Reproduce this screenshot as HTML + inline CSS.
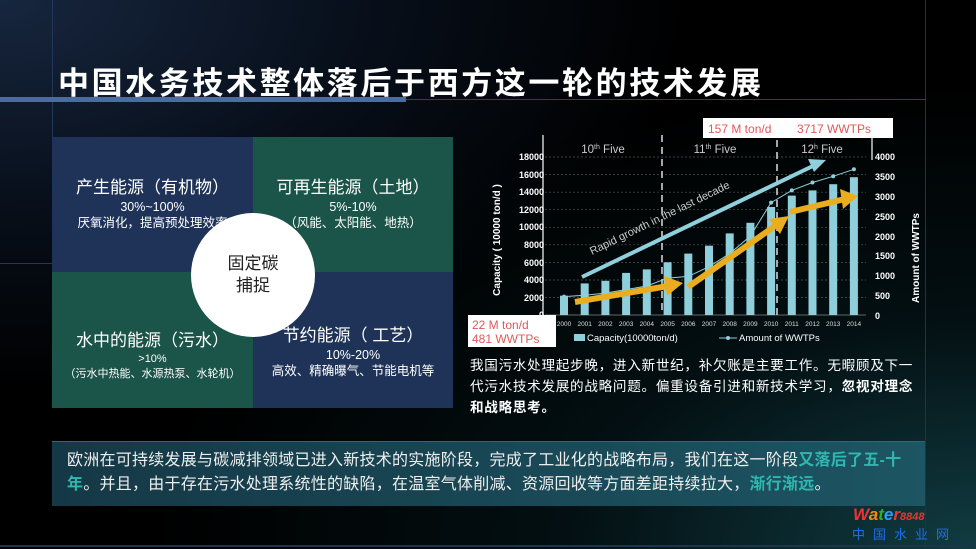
<!DOCTYPE html>
<html><head><meta charset="utf-8"><style>
*{margin:0;padding:0;box-sizing:border-box}
body{width:976px;height:549px;overflow:hidden;background:#000;font-family:"Liberation Sans","Noto Sans CJK SC",sans-serif;position:relative;color:#fff}
.bg{position:absolute;inset:0;background:radial-gradient(ellipse at 0% 0%,#17263f 0%,#08101c 25%,#000 50%),#000}
.bg2{position:absolute;inset:0;background:radial-gradient(ellipse at 100% 100%,rgba(30,110,120,.55) 0%,rgba(10,50,60,.3) 30%,rgba(0,0,0,0) 60%)}
.abs{position:absolute}
.q{position:absolute;text-align:center;color:#fff}
</style></head><body>
<div class="bg"></div><div class="bg2"></div>
<div class="abs" style="left:52px;top:0;width:1px;height:175px;background:#22385a"></div>
<div class="abs" style="left:925px;top:0;width:1px;height:549px;background:#1d3350"></div>
<div class="abs" style="left:0;top:545px;width:976px;height:2px;background:#1d3350"></div>
<div class="abs" style="left:0;top:263px;width:52px;height:1px;background:#22385a"></div>
<div class="abs" style="left:58px;top:58px;font-size:31px;font-weight:bold;letter-spacing:2.6px;color:#fff;white-space:nowrap">中国水务技术整体落后于西方这一轮的技术发展</div>
<div class="abs" style="left:0;top:97px;width:406px;height:5px;background:#4a6aa8"></div>
<div class="abs" style="left:406px;top:99px;width:520px;height:1px;background:#2a3f66"></div>

<div class="abs" style="left:52px;top:137px;width:201px;height:135px;background:#1e3357"></div>
<div class="abs" style="left:253px;top:137px;width:200px;height:135px;background:#1b5448"></div>
<div class="abs" style="left:52px;top:272px;width:201px;height:136px;background:#1b5448"></div>
<div class="abs" style="left:253px;top:272px;width:200px;height:136px;background:#1e3357"></div>
<div class="q" style="left:52px;top:177px;width:201px;font-size:17px;line-height:22px">产生能源（有机物）</div>
<div class="q" style="left:52px;top:199px;width:201px;font-size:12.5px;line-height:16px">30%~100%</div>
<div class="q" style="left:52px;top:215px;width:201px;font-size:12.5px;line-height:16px;white-space:nowrap">厌氧消化，提高预处理效率</div>
<div class="q" style="left:253px;top:177px;width:200px;font-size:17px;line-height:22px">可再生能源（土地）</div>
<div class="q" style="left:253px;top:199px;width:200px;font-size:12.5px;line-height:16px">5%-10%</div>
<div class="q" style="left:253px;top:215px;width:200px;font-size:12.5px;line-height:16px">（风能、太阳能、地热）</div>
<div class="q" style="left:52px;top:330px;width:201px;font-size:17px;line-height:22px">水中的能源（污水）</div>
<div class="q" style="left:52px;top:352px;width:201px;font-size:11px;line-height:14px">&gt;10%</div>
<div class="q" style="left:52px;top:366px;width:201px;font-size:11px;line-height:16px">（污水中热能、水源热泵、水轮机）</div>
<div class="q" style="left:253px;top:325px;width:200px;font-size:17px;line-height:22px">节约能源（ 工艺）</div>
<div class="q" style="left:253px;top:347px;width:200px;font-size:12.5px;line-height:16px">10%-20%</div>
<div class="q" style="left:253px;top:363px;width:200px;font-size:12.5px;line-height:16px">高效、精确曝气、节能电机等</div>
<div class="abs" style="left:191px;top:213px;width:124px;height:124px;border-radius:50%;background:#fff"></div>
<div class="q" style="left:191px;top:253px;width:124px;font-size:17px;line-height:22px;color:#222">固定碳<br>捕捉</div>

<svg class="abs" style="left:0;top:0" width="976" height="549" font-family="Liberation Sans,sans-serif">
<g stroke="#555" stroke-dasharray="2,2" stroke-width="0.7">
<line x1="545" x2="866" y1="157" y2="157"/><line x1="545" x2="866" y1="174.6" y2="174.6"/><line x1="545" x2="866" y1="192.2" y2="192.2"/><line x1="545" x2="866" y1="209.7" y2="209.7"/><line x1="545" x2="866" y1="227.3" y2="227.3"/><line x1="545" x2="866" y1="244.8" y2="244.8"/><line x1="545" x2="866" y1="262.4" y2="262.4"/><line x1="545" x2="866" y1="280" y2="280"/><line x1="545" x2="866" y1="297.5" y2="297.5"/>
</g>
<line x1="545" y1="315" x2="866" y2="315" stroke="#666"/>
<line x1="543" y1="135" x2="543" y2="315" stroke="#ccc" stroke-width="1.5"/>
<line x1="872" y1="135" x2="872" y2="160" stroke="#ccc" stroke-width="1.5"/>
<line x1="662" y1="135" x2="662" y2="315" stroke="#ddd" stroke-width="1.5" stroke-dasharray="7,5"/>
<line x1="777" y1="128" x2="777" y2="315" stroke="#ddd" stroke-width="1.5" stroke-dasharray="7,5"/>
<g font-size="11.5" fill="#ccc" text-anchor="middle">
<text x="603" y="153">10<tspan font-size="7" dy="-4">th</tspan><tspan dy="4"> Five</tspan></text>
<text x="715" y="153">11<tspan font-size="7" dy="-4">th</tspan><tspan dy="4"> Five</tspan></text>
<text x="822" y="153">12<tspan font-size="7" dy="-4">h</tspan><tspan dy="4"> Five</tspan></text>
</g>
<g font-size="9" font-weight="bold" fill="#fff" text-anchor="end">
<text x="544" y="160">18000</text><text x="544" y="178">16000</text><text x="544" y="195">14000</text><text x="544" y="213">12000</text><text x="544" y="230">10000</text><text x="544" y="248">8000</text><text x="544" y="266">6000</text><text x="544" y="283">4000</text><text x="544" y="301">2000</text><text x="544" y="318">0</text>
</g>
<g font-size="9" font-weight="bold" fill="#fff">
<text x="875" y="160">4000</text><text x="875" y="180">3500</text><text x="875" y="200">3000</text><text x="875" y="220">2500</text><text x="875" y="240">2000</text><text x="875" y="259">1500</text><text x="875" y="279">1000</text><text x="875" y="299">500</text><text x="875" y="319">0</text>
</g>
<text transform="translate(500,240) rotate(-90)" font-size="10" font-weight="bold" fill="#fff" text-anchor="middle">Capacity ( 10000 ton/d )</text>
<text transform="translate(919,258) rotate(-90)" font-size="10" font-weight="bold" fill="#fff" text-anchor="middle">Amount of WWTPs</text>
<g fill="#8fcfdc">
<rect x="560" y="295.7" width="8" height="19.3"/><rect x="580.7" y="283.4" width="8" height="31.6"/><rect x="601.4" y="280.8" width="8" height="34.2"/><rect x="622.1" y="272.9" width="8" height="42.1"/><rect x="642.8" y="269.4" width="8" height="45.6"/><rect x="663.6" y="262.3" width="8" height="52.7"/><rect x="684.3" y="253.6" width="8" height="61.4"/><rect x="705" y="245.7" width="8" height="69.3"/><rect x="725.7" y="233.4" width="8" height="81.6"/><rect x="746.4" y="222.8" width="8" height="92.2"/><rect x="767.1" y="207" width="8" height="108"/><rect x="787.8" y="195.6" width="8" height="119.4"/><rect x="808.5" y="190.4" width="8" height="124.6"/><rect x="829.2" y="184.2" width="8" height="130.8"/><rect x="849.9" y="177.2" width="8" height="137.8"/>
</g>
<polyline fill="none" stroke="#8fcfdc" stroke-width="1" points="564,296.6 584.7,295.3 605.4,293.1 626.1,289.5 646.8,286 667.6,278.1 688.3,276.4 709,266.7 729.7,253.6 750.4,236 771.1,202.6 791.8,190.4 812.5,182.5 833.2,176.3 853.9,169.3"/>
<g fill="#8fcfdc"><circle cx="564" cy="296.6" r="2"/><circle cx="771.1" cy="202.6" r="2"/><circle cx="791.8" cy="190.4" r="2"/><circle cx="812.5" cy="182.5" r="2"/><circle cx="833.2" cy="176.3" r="2"/><circle cx="853.9" cy="169.3" r="2"/></g>
<g font-size="6.5" fill="#ddd" text-anchor="middle">
<text x="564" y="326">2000</text><text x="584.7" y="326">2001</text><text x="605.4" y="326">2002</text><text x="626.1" y="326">2003</text><text x="646.8" y="326">2004</text><text x="667.6" y="326">2005</text><text x="688.3" y="326">2006</text><text x="709" y="326">2007</text><text x="729.7" y="326">2008</text><text x="750.4" y="326">2009</text><text x="771.1" y="326">2010</text><text x="791.8" y="326">2011</text><text x="812.5" y="326">2012</text><text x="833.2" y="326">2013</text><text x="853.9" y="326">2014</text>
</g>
<line x1="582" y1="277" x2="815" y2="165" stroke="#8fd0dc" stroke-width="4"/>
<polygon points="826,160 808,159 814,172" fill="#8fd0dc"/>
<text transform="translate(592,255) rotate(-26)" font-size="11" fill="#ccc">Rapid growth in the last decade</text>
<g stroke="#e9ad1e" stroke-width="6" fill="none">
<line x1="575" y1="302" x2="668" y2="286"/>
<line x1="688" y1="287" x2="775" y2="226"/>
<line x1="790" y1="212" x2="845" y2="199"/>
</g>
<g fill="#e9ad1e">
<polygon points="683,283 664,276 667,296"/>
<polygon points="789,216 769,219 780,234"/>
<polygon points="858,196 840,189 843,209"/>
</g>
<rect x="574" y="334" width="11" height="7" fill="#8fcfdc"/>
<text x="587" y="341" font-size="9.5" fill="#fff">Capacity(10000ton/d)</text>
<line x1="719" y1="338" x2="737" y2="338" stroke="#8fcfdc"/><circle cx="728" cy="338" r="2" fill="#8fcfdc"/>
<text x="739" y="341" font-size="9.5" fill="#fff">Amount of WWTPs</text>
<rect x="703" y="118" width="190" height="20" fill="#fff"/>
<text x="708" y="133" font-size="12" fill="#e0585a">157 M ton/d</text>
<text x="797" y="133" font-size="12" fill="#e0585a">3717 WWTPs</text>
<rect x="468" y="315" width="88" height="32" fill="#fff"/>
<text x="472" y="329" font-size="12" fill="#e0585a">22 M ton/d</text>
<text x="472" y="343" font-size="12" fill="#e0585a">481 WWTPs</text>
</svg>

<div class="abs" style="left:470px;top:355px;width:470px;font-size:13.6px;letter-spacing:0.7px;line-height:21px;color:#fff;white-space:nowrap">我国污水处理起步晚，进入新世纪，补欠账是主要工作。无暇顾及下一<br>代污水技术发展的战略问题。偏重设备引进和新技术学习，<b>忽视对理念</b><br><b>和战略思考。</b></div>

<div class="abs" style="left:52px;top:441px;width:873px;height:65px;background:linear-gradient(90deg,#153846,#1d5563);border-top:1px solid #2a6a78"></div>
<div class="abs" style="left:67px;top:449px;width:860px;font-size:16px;letter-spacing:0.25px;line-height:24px;color:#eee;white-space:nowrap">欧洲在可持续发展与碳减排领域已进入新技术的实施阶段，完成了工业化的战略布局，我们在这一阶段<b style="color:#2fb8b0">又落后了五-十</b><br><b style="color:#2fb8b0">年</b>。并且，由于存在污水处理系统性的缺陷，在温室气体削减、资源回收等方面差距持续拉大，<b style="color:#2fb8b0">渐行渐远</b>。</div>

<div class="abs" style="left:853px;top:505px;font-size:17px;font-weight:bold;font-style:italic;color:#e33"><span style="color:#e33">W</span><span style="color:#f80">a</span><span style="color:#3a3">t</span><span style="color:#39f">e</span><span style="color:#e33">r</span><span style="font-size:11px;color:#e33">8848</span></div>
<div class="abs" style="left:852px;top:524px;font-size:13px;letter-spacing:8px;color:#1e6ee8">中国水业网</div>
</body></html>
